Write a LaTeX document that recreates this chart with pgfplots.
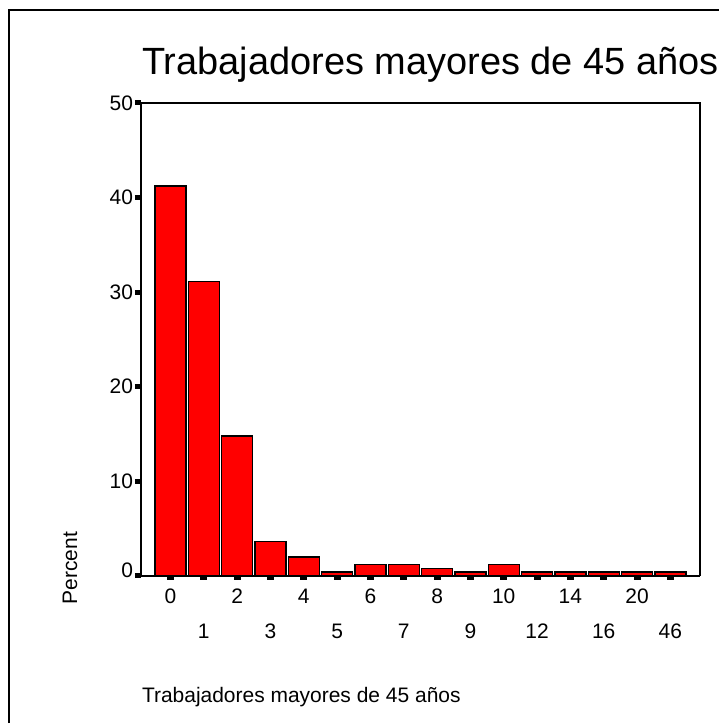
\documentclass[border=0pt]{standalone}
\usepackage{pgfplots}
\pgfplotsset{compat=1.18}
\usepackage{fontspec}
\setmainfont{Liberation Sans}
\begin{document}
\begin{tikzpicture}[x=1pt,y=1pt]
\path (0,0) rectangle (720,724);
\draw[line width=2pt] (9,0) -- (9,714) -- (720,714);
\node[anchor=base west,font=\fontsize{38}{40}\selectfont,inner sep=0pt] at (142,724-75) {Trabajadores mayores de 45 años};
\node[anchor=base west,font=\fontsize{21}{23}\selectfont,inner sep=0pt] at (142,724-703) {Trabajadores mayores de 45 años};
\node[rotate=90,font=\fontsize{21}{23}\selectfont,inner sep=0pt] at (70,724-569) {Percent};
\begin{axis}[
  at={(141pt,147.3pt)}, anchor=south west,
  scale only axis, width=560pt, height=473.7pt,
  xmin=-0.89, xmax=15.89, ymin=0, ymax=50,
  axis line style={draw=none},
  ybar, bar width=0.93, bar shift=0pt,
  ytick={0,10,20,30,40,50},
  yticklabels={\raisebox{12pt}{0},10,20,30,40,50},
  xtick={0,2,...,14},
  xticklabels={0,2,4,6,8,10,14,20},
  extra x ticks={1,3,...,15},
  extra x tick labels={1,3,5,7,9,12,16,46},
  extra x tick style={xticklabel style={yshift=-35pt}},
  tick pos=left,
  tick align=outside,
  xtick style={line width=7pt, black},
  ytick style={line width=5pt, black},
  x tick style={/pgfplots/major tick length=4pt},
  y tick style={/pgfplots/major tick length=6pt},
  x tick label style={font=\fontsize{21}{23}\selectfont, yshift=-5pt},
  y tick label style={font=\fontsize{21}{23}\selectfont},
  clip=false,
]
\addplot[fill=red, draw=black, line width=1.3pt] coordinates {
 (0,41.2) (1,31.1) (2,14.8) (3,3.6) (4,2.0) (5,0.4) (6,1.2) (7,1.2)
 (8,0.8) (9,0.4) (10,1.2) (11,0.4) (12,0.4) (13,0.4) (14,0.4) (15,0.4)};
\draw[line width=2pt] (rel axis cs:0,1) -- (rel axis cs:0,0) -- (rel axis cs:1,0);
\draw[line width=1.3pt] (rel axis cs:0,1) -- (rel axis cs:1,1) -- (rel axis cs:1,0);
\end{axis}
\end{tikzpicture}
\end{document}
